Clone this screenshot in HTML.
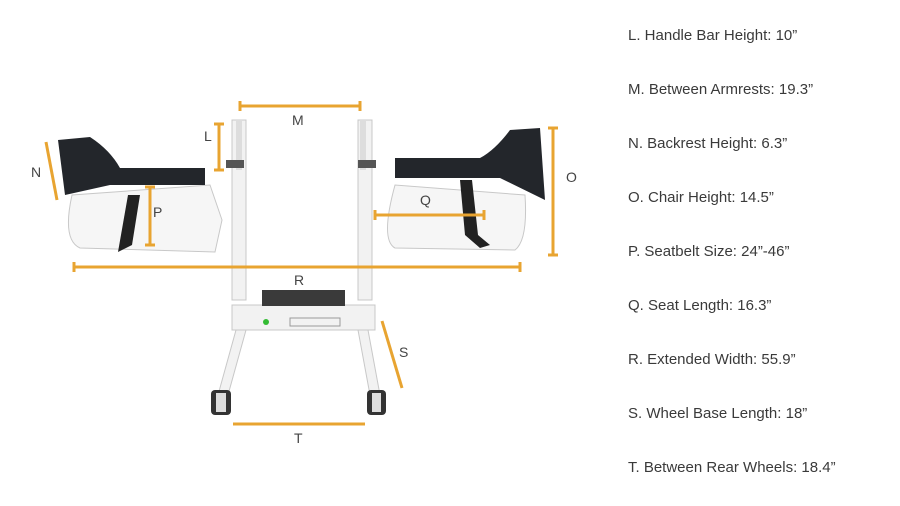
<!DOCTYPE html>
<html><head><meta charset="utf-8"><style>
html,body{margin:0;padding:0;background:#fff;width:900px;height:506px;overflow:hidden}
.t{position:absolute;left:628px;font-family:"Liberation Sans",sans-serif;font-size:15px;color:#3a3a3a;white-space:nowrap}
</style></head><body>
<svg width="900" height="506" style="position:absolute;left:0;top:0" xmlns="http://www.w3.org/2000/svg">
<g fill="#f2f2f2" stroke="#c8c8c8" stroke-width="1">
 <path d="M72 195 Q62 240 80 248 L215 252 L222 220 L210 185 Z" fill="#f6f6f6"/>
 <path d="M395 185 Q380 240 395 248 L515 250 Q528 240 525 195 Z" fill="#f6f6f6"/>
 <rect x="232" y="120" width="14" height="180"/>
 <rect x="358" y="120" width="14" height="180"/>
 <rect x="232" y="305" width="143" height="25"/>
 <polygon points="236,330 246,330 228,395 218,395"/>
 <polygon points="358,330 368,330 380,395 370,395"/>
</g>
<rect x="262" y="290" width="83" height="16" fill="#3a3a3a"/>
<rect x="290" y="318" width="50" height="8" fill="none" stroke="#999"/>
<circle cx="266" cy="322" r="3" fill="#3b3"/>
<rect x="211" y="390" width="20" height="25" rx="4" fill="#333"/>
<rect x="216" y="393" width="10" height="19" fill="#ddd"/>
<rect x="367" y="390" width="19" height="25" rx="4" fill="#333"/>
<rect x="372" y="393" width="9" height="19" fill="#ddd"/>
<rect x="236" y="120" width="6" height="50" fill="#ddd"/>
<rect x="360" y="120" width="6" height="50" fill="#ddd"/>
<rect x="226" y="160" width="18" height="8" fill="#555"/>
<rect x="358" y="160" width="18" height="8" fill="#555"/>
<path d="M58 140 L90 137 Q110 150 120 168 L205 168 L205 185 L110 185 L65 195 Z" fill="#23262b"/>
<path d="M540 128 L510 130 Q495 150 480 158 L395 158 L395 178 L500 178 L545 200 Z" fill="#23262b"/>
<path d="M128 195 L140 195 L132 245 L118 252 Z" fill="#222"/>
<path d="M460 180 L472 180 L478 235 L490 245 L480 248 L465 235 Z" fill="#222"/>
<g stroke="#e8a431" stroke-width="3" fill="none">
 <line x1="240" y1="106" x2="360" y2="106"/>
 <line x1="240" y1="101" x2="240" y2="111"/><line x1="360" y1="101" x2="360" y2="111"/>
 <line x1="219" y1="124" x2="219" y2="170"/>
 <line x1="214" y1="124" x2="224" y2="124"/><line x1="214" y1="170" x2="224" y2="170"/>
 <line x1="46" y1="142" x2="57" y2="200"/>
 <line x1="553" y1="128" x2="553" y2="255"/>
 <line x1="548" y1="128" x2="558" y2="128"/><line x1="548" y1="255" x2="558" y2="255"/>
 <line x1="150" y1="187" x2="150" y2="245"/>
 <line x1="145" y1="187" x2="155" y2="187"/><line x1="145" y1="245" x2="155" y2="245"/>
 <line x1="375" y1="215" x2="484" y2="215"/>
 <line x1="375" y1="210" x2="375" y2="220"/><line x1="484" y1="210" x2="484" y2="220"/>
 <line x1="74" y1="267" x2="520" y2="267"/>
 <line x1="74" y1="262" x2="74" y2="272"/><line x1="520" y1="262" x2="520" y2="272"/>
 <line x1="382" y1="321" x2="402" y2="388"/>
 <line x1="233" y1="424" x2="365" y2="424"/>
</g>
<g font-family="Liberation Sans,sans-serif" font-size="14" fill="#444">
 <text x="292" y="125">M</text><text x="204" y="141">L</text><text x="31" y="177">N</text>
 <text x="566" y="182">O</text><text x="153" y="217">P</text><text x="420" y="205">Q</text>
 <text x="294" y="285">R</text><text x="399" y="357">S</text><text x="294" y="443">T</text>
</g>
</svg>
<div class="t" style="top:27px">L. Handle Bar Height: 10”</div>
<div class="t" style="top:81px">M. Between Armrests: 19.3”</div>
<div class="t" style="top:135px">N. Backrest Height: 6.3”</div>
<div class="t" style="top:189px">O. Chair Height: 14.5”</div>
<div class="t" style="top:243px">P. Seatbelt Size: 24”-46”</div>
<div class="t" style="top:297px">Q. Seat Length: 16.3”</div>
<div class="t" style="top:351px">R. Extended Width: 55.9”</div>
<div class="t" style="top:405px">S. Wheel Base Length: 18”</div>
<div class="t" style="top:459px">T. Between Rear Wheels: 18.4”</div>
</body></html>
